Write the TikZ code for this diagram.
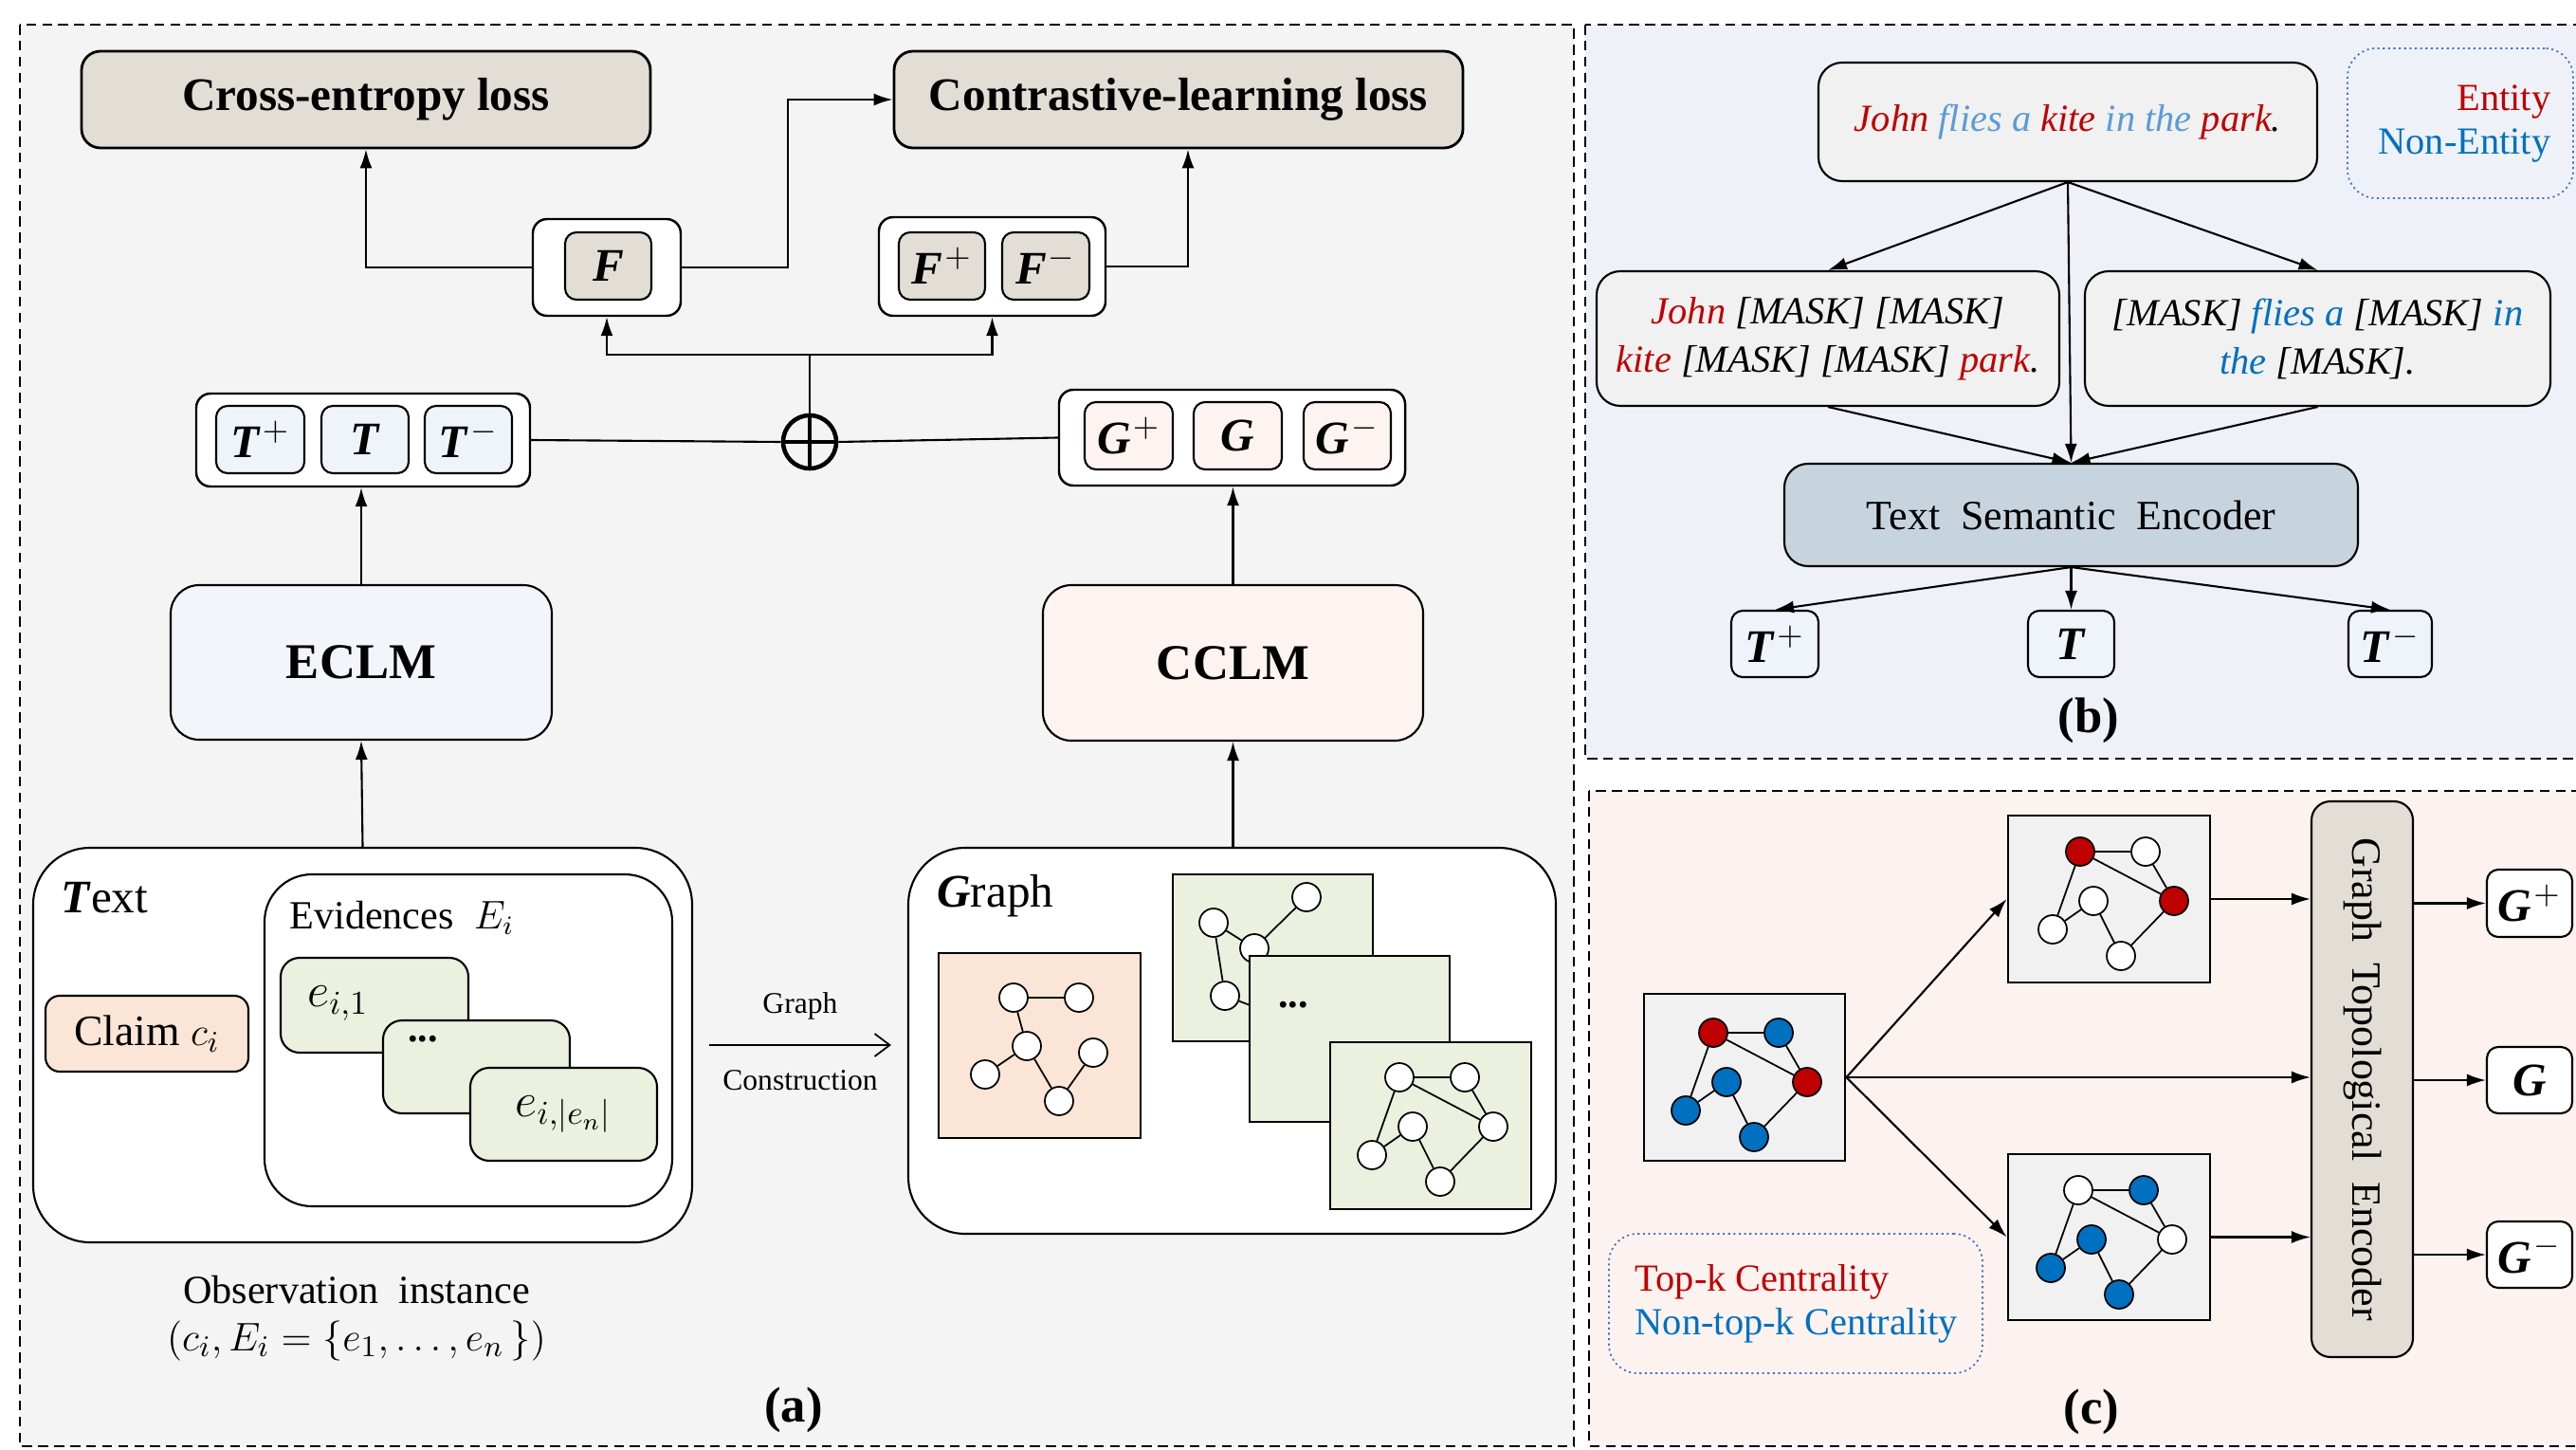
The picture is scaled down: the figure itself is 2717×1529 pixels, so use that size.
\documentclass[tikz,border=0pt]{standalone}
\usepackage{amsmath}
\usepackage{fontspec}
\setmainfont{Liberation Serif}
\usetikzlibrary{arrows.meta, positioning}

\definecolor{panelA}{HTML}{F4F4F4}
\definecolor{panelB}{HTML}{EEF2F8}
\definecolor{panelC}{HTML}{FCF3F0}
\definecolor{lossfill}{HTML}{E2DED6}
\definecolor{tfill}{HTML}{EFF3FA}
\definecolor{gfill}{HTML}{FDF3F0}
\definecolor{eclmfill}{HTML}{F2F6FB}
\definecolor{cclmfill}{HTML}{FDF4F1}
\definecolor{claimfill}{HTML}{FBE5D6}
\definecolor{evifill}{HTML}{EBF0DF}
\definecolor{sentfill}{HTML}{F1F1F1}
\definecolor{encfill}{HTML}{C7D4DE}
\definecolor{entred}{HTML}{C00000}
\definecolor{entblue}{HTML}{0070C0}
\definecolor{lightblue}{HTML}{5B9BD5}
\definecolor{keyline}{HTML}{4472C4}

\tikzset{
  % box given by its corners x1,y1,x2,y2
  span/.style args={#1,#2,#3,#4}{at={({(#1+#3)/2},{(#2+#4)/2})},
    minimum width={(#3-#1)*0.1mm}, minimum height={(#4-#2)*0.1mm}},
  panel/.style={draw, line width=0.5pt, dash pattern=on 3pt off 1.8pt},
  plainbox/.style={draw, inner sep=0pt, line width=0.6pt},
  rbox/.style={plainbox, rounded corners=#1},
  lossbox/.style={rbox=2mm, fill=lossfill, line width=0.8pt, font=\bfseries\fontsize{14}{16}\selectfont},
  grpbox/.style={rbox=1.5mm, fill=white, line width=0.7pt},
  vecbox/.style={rbox=1.2mm, fill=#1, font=\fontsize{14}{16}\selectfont},
  gnode/.style={circle, draw, line width=0.5pt, inner sep=0pt, minimum size=3mm, fill=#1},
  arr/.style={-{Latex[length=2mm, width=1.3mm]}, line width=0.6pt},
  keybox/.style={rbox=3mm, draw=keyline, densely dotted, line width=0.5pt},
  lbl/.style={font=\bfseries\fontsize{15}{18}\selectfont},
}

\newcommand\emb[2]{\textbf{\textit{#1}}\kern0.6pt$^{#2}$}

% six-node graph: prefix, origin, fills of a..f
\newcommand\sixgraph[8]{%
  \begin{scope}[shift={#2}]
    \node[gnode=#3] (#1a) at (0,0) {};
    \node[gnode=#4] (#1b) at (69,0) {};
    \node[gnode=#5] (#1c) at (99,52) {};
    \node[gnode=#6] (#1d) at (14,52) {};
    \node[gnode=#7] (#1e) at (-29,82) {};
    \node[gnode=#8] (#1f) at (43,110) {};
  \end{scope}
  \draw[line width=0.5pt] (#1a) -- (#1b) (#1a) -- (#1c) (#1b) -- (#1c) (#1a) -- (#1e)
    (#1e) -- (#1d) (#1d) -- (#1f) (#1f) -- (#1c);
}

\begin{document}
\begin{tikzpicture}[x=0.1mm, y=-0.1mm]
\useasboundingbox (0,0) rectangle (2717,1529);
\fill[white] (0,0) rectangle (2717,1529);
\clip (0,0) rectangle (2717,1529);

% panels
\fill[panelA] (21,26) rectangle (1660,1525);
\draw[panel] (21,26) rectangle (1660,1525);
\fill[panelB] (1672,26) rectangle (2740,800);
\draw[panel] (1672,26) rectangle (2740,800);
\fill[panelC] (1676,834) rectangle (2740,1525);
\draw[panel] (1676,834) rectangle (2740,1525);

% ---- (a) ----
\node[lossbox, span={86,54,686,156}] (celoss) {Cross-entropy loss};
\node[lossbox, span={943,54,1543,156}] (clloss) {Contrastive-learning loss};

\node[grpbox, span={562,231,718,333}] (fgrp) {};
\node[vecbox=lossfill, span={596,245,687,316}] (f) {\textbf{\textit{F}}};
\node[grpbox, span={927,229,1166,333}] (fpm) {};
\node[vecbox=lossfill, span={948,245,1039,316}] (fp) {\emb{F}{+}};
\node[vecbox=lossfill, span={1057,245,1149,316}] (fm) {\emb{F}{-}};

\node[grpbox, span={207,415,559,513}] (tgrp) {};
\node[vecbox=tfill, span={228,428,321,499}] (tp) {\emb{T}{+}};
\node[vecbox=tfill, span={339,428,431,499}] (t) {\textbf{\textit{T}}};
\node[vecbox=tfill, span={448,428,540,499}] (tm) {\emb{T}{-}};

\node[grpbox, span={1117,411,1482,512}] (ggrp) {};
\node[vecbox=gfill, span={1144,424,1237,495}] (gp) {\emb{G}{+}};
\node[vecbox=gfill, span={1259,424,1352,495}] (g) {\textbf{\textit{G}}};
\node[vecbox=gfill, span={1375,424,1467,495}] (gm) {\emb{G}{-}};

\node[circle, draw, line width=1.3pt, minimum size=5.6mm, inner sep=0pt] (sum) at (854,466) {};
\draw[line width=1.3pt] (sum.north) -- (sum.south) (sum.west) -- (sum.east);
\coordinate (split) at (854,374);

\draw[line width=0.6pt] (tgrp.east) -- (sum.west);
\draw[line width=0.6pt] (sum.east) -- (ggrp.west);
\draw[line width=0.6pt] (sum.north) -- (split);
\draw[arr] (split) -| (fgrp.south);
\draw[arr] (split) -| (fpm.south);
\draw[arr] (fgrp.west) -| (celoss.south);
\draw[arr] (fgrp.east) -- ++(112,0) |- (clloss.west);
\draw[arr] (fpm.east) -| ([xshift=1mm]clloss.south);

\node[rbox=3mm, fill=eclmfill, span={180,617,582,780}, font=\bfseries\fontsize{15}{18}\selectfont] (eclm) {ECLM};
\node[rbox=3mm, fill=cclmfill, span={1100,617,1501,781}, font=\bfseries\fontsize{15}{18}\selectfont] (cclm) {CCLM};
\draw[arr] (eclm.north) -- (eclm.north |- tgrp.south);
\draw[arr] (cclm.north) -- (cclm.north |- ggrp.south);

% text side
\node[rbox=6mm, fill=white, span={35,894,730,1310}] (textbox) {};
\node[anchor=west, font=\fontsize{14}{16}\selectfont] (textlbl) at (52,947) {\textbf{\textit{T}}ext};
\node[rbox=5mm, fill=white, span={279,922,709,1272}] (evbox) {};
\node[anchor=west, font=\fontsize{12}{14}\selectfont] (evlbl) at (293,968) {Evidences~ $E_i$};
\node[rbox=1.5mm, fill=claimfill, span={48,1050,262,1130}, font=\fontsize{13}{15}\selectfont] (claim) {Claim $c_i$};
\node[rbox=2mm, fill=evifill, span={296,1010,494,1110}] (e1) {};
\node[anchor=west, font=\fontsize{14}{16}\selectfont] (e1txt) at (312,1058) {$e_{i,1}$};
\node[rbox=2mm, fill=evifill, span={404,1076,601,1174}] (edots) {};
\node[anchor=west, font=\bfseries\fontsize{12}{14}\selectfont] (edotstxt) at (418,1096) {...};
\node[rbox=2mm, fill=evifill, span={496,1126,693,1224}, font=\fontsize{14}{16}\selectfont] (en) {$e_{i,|e_n|}$};
\draw[arr] (textbox.north) -- (eclm.south);

\node[font=\fontsize{12}{14}\selectfont] (obs) at (376,1360) {Observation~ instance};
\node[font=\fontsize{13}{15}\selectfont] (obsset) at (376,1414) {$(c_i, E_i = \{e_1, \dots, e_n\,\})$};

% graph side
\node[rbox=6mm, fill=white, span={958,894,1641,1301}] (graphbox) {};
\node[anchor=west, font=\fontsize{14}{16}\selectfont] (graphlbl) at (976,945) {\textbf{\textit{G}}raph};
\draw[-{Straight Barb[length=1.6mm, width=2.4mm]}, line width=0.5pt, shorten <=1.7mm, shorten >=1.7mm]
  (textbox.east) -- node[above=4pt, font=\fontsize{9}{11}\selectfont] {Graph}
  node[below=4pt, font=\fontsize{9}{11}\selectfont] {Construction} (textbox.east -| graphbox.west);

\node[plainbox, fill=claimfill, span={990,1005,1203,1200}] (claimg) {};
\node[gnode=white] (ca) at (1069,1052) {};
\node[gnode=white] (cb) at (1138,1052) {};
\node[gnode=white] (cc) at (1083,1103) {};
\node[gnode=white] (cd) at (1039,1133) {};
\node[gnode=white] (ce) at (1153,1110) {};
\node[gnode=white] (cf) at (1117,1161) {};
\draw[line width=0.5pt] (ca) -- (cb) (ca) -- (cc) (cc) -- (cd) (cc) -- (cf) (cf) -- (ce);

\node[plainbox, fill=evifill, span={1237,922,1448,1098}] (evg1) {};
\node[gnode=white] (ga) at (1280,973) {};
\node[gnode=white] (gb) at (1378,946) {};
\node[gnode=white] (gc) at (1323,1000) {};
\node[gnode=white] (gd) at (1292,1050) {};
\draw[line width=0.5pt] (ga) -- (gc) (gc) -- (gb) (ga) -- (gd) (gd) -- (1345,1070) (gc) -- (1340,1040);
\node[plainbox, fill=evifill, span={1318,1008,1529,1183}] (evg2) {};
\node[anchor=west, font=\bfseries\fontsize{12}{14}\selectfont] (evg2dots) at (1336,1060) {...};
\node[plainbox, fill=evifill, span={1403,1099,1615,1275}] (evg3) {};
\sixgraph{h}{(1476,1136)}{white}{white}{white}{white}{white}{white}
\draw[arr] (graphbox.north -| cclm.south) -- (cclm.south);

\node[lbl] (lbla) at (837,1487) {(a)};

% ---- (b) ----
\node[rbox=2.5mm, fill=sentfill, span={1918,66,2444,191}, font=\itshape\fontsize{11.5}{14}\selectfont] (sent)
  {{\color{entred}John} {\color{lightblue}flies a} {\color{entred}kite} {\color{lightblue}in the} {\color{entred}park}.};
\node[keybox, span={2476,51,2714,209}] (keyb) {};
\node[anchor=east, inner sep=0pt, text=entred, font=\fontsize{11.5}{14}\selectfont] (kent) at (2691,107) {Entity};
\node[anchor=east, inner sep=0pt, text=entblue, font=\fontsize{11.5}{14}\selectfont] (knon) at (2691,153) {Non-Entity};

\node[rbox=2.5mm, fill=sentfill, span={1684,286,2172,428}, align=center, font=\itshape\fontsize{11.5}{14.5}\selectfont] (maskl)
  {{\color{entred}John} [MASK] [MASK]\\ {\color{entred}kite} [MASK] [MASK] {\color{entred}park}.};
\node[rbox=2.5mm, fill=sentfill, span={2199,286,2690,428}, align=center, font=\itshape\fontsize{11.5}{14.5}\selectfont] (maskr)
  {[MASK] {\color{entblue}flies a} [MASK] {\color{entblue}in}\\ {\color{entblue}the} [MASK].};
\node[rbox=2.5mm, fill=encfill, span={1882,489,2487,597}, font=\fontsize{12.5}{15}\selectfont] (tenc) {Text~ Semantic~ Encoder};

\node[vecbox=tfill, span={1826,644,1918,714}] (btp) {\emb{T}{+}};
\node[vecbox=tfill, span={2139,644,2230,714}] (bt) {\textbf{\textit{T}}};
\node[vecbox=tfill, span={2477,644,2565,714}] (btm) {\emb{T}{-}};

\draw[arr] (sent.south) -- (maskl.north);
\draw[arr] (sent.south) -- (maskr.north);
\draw[arr] (sent.south) -- (tenc.north);
\draw[arr] (maskl.south) -- (tenc.north);
\draw[arr] (maskr.south) -- (tenc.north);
\draw[arr] (tenc.south) -- (btp.north);
\draw[arr] (tenc.south) -- (bt.north);
\draw[arr] (tenc.south) -- (btm.north);

\node[lbl] (lblb) at (2203,760) {(b)};

% ---- (c) ----
\node[plainbox, line width=0.8pt, fill=sentfill, span={1734,1048,1946,1224}] (src) {};
\sixgraph{s}{(1807,1089)}{entred}{entblue}{entred}{entblue}{entblue}{entblue}
\node[plainbox, line width=0.8pt, fill=sentfill, span={2118,860,2331,1036}] (upg) {};
\sixgraph{u}{(2194,898)}{entred}{white}{entred}{white}{white}{white}
\node[plainbox, line width=0.8pt, fill=sentfill, span={2118,1217,2331,1392}] (lowg) {};
\sixgraph{l}{(2192,1255)}{white}{entblue}{white}{entblue}{entblue}{entblue}

\node[rbox=2mm, fill=lossfill, span={2438,845,2545,1431}] (genc) {};
\node[rotate=-90, font=\fontsize{12.5}{15}\selectfont] (genclbl) at (genc.center) {Graph~ Topological~ Encoder};

\node[vecbox=white, span={2623,917,2713,988}] (cgp) {\emb{G}{+}};
\node[vecbox=white, span={2623,1104,2713,1174}] (cg) {\textbf{\textit{G}}};
\node[vecbox=white, span={2623,1288,2713,1358}] (cgm) {\emb{G}{-}};

\draw[arr] (src.east) -- (upg.west);
\draw[arr] (src.east) -- (lowg.west);
\draw[arr] (src.east) -- (src.east -| genc.west);
\draw[arr] (upg.east) -- (upg.east -| genc.west);
\draw[arr] (lowg.east) -- (lowg.east -| genc.west);
\draw[arr] (cgp.west -| genc.east) -- (cgp.west);
\draw[arr] (cg.west -| genc.east) -- (cg.west);
\draw[arr] (cgm.west -| genc.east) -- (cgm.west);

\node[keybox, span={1697,1301,2091,1448}] (keyc) {};
\node[anchor=west, inner sep=0pt, text=entred, font=\fontsize{11.5}{14}\selectfont] (ktop) at (1724,1352) {Top-k Centrality};
\node[anchor=west, inner sep=0pt, text=entblue, font=\fontsize{11.5}{14}\selectfont] (knontop) at (1724,1398) {Non-top-k Centrality};

\node[lbl] (lblc) at (2206,1489) {(c)};
\end{tikzpicture}
\end{document}
